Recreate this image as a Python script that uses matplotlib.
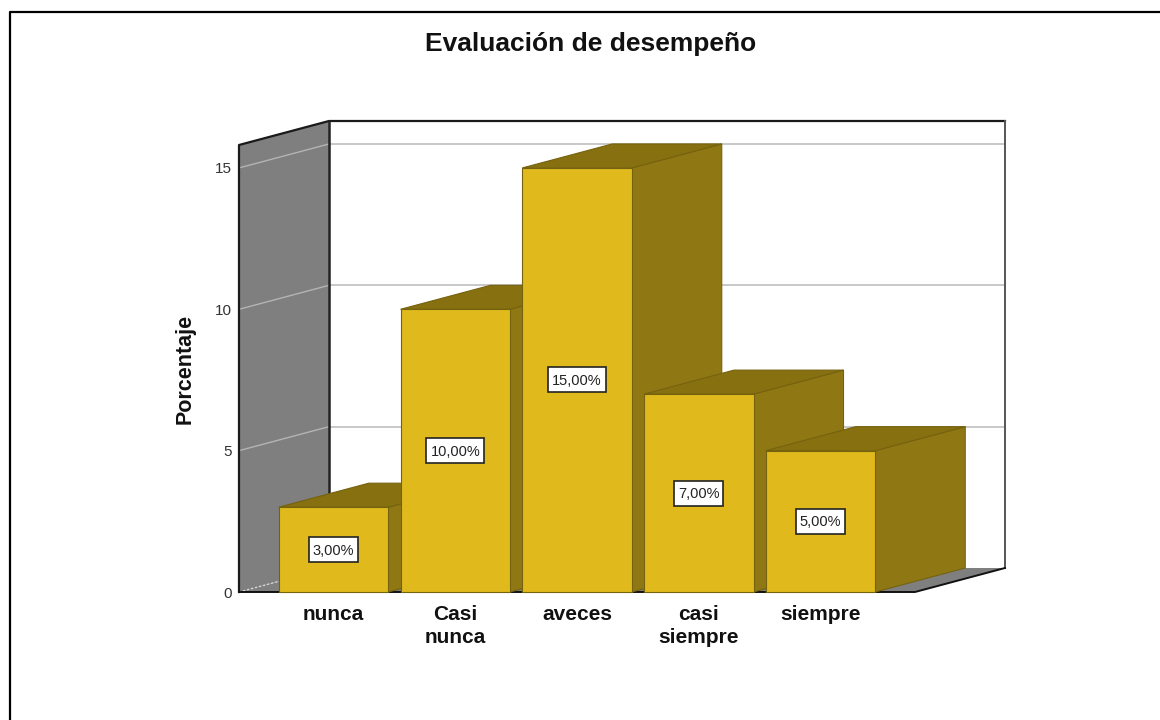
import matplotlib
matplotlib.use('Agg')
import matplotlib.pyplot as plt
from matplotlib.lines import Line2D
from matplotlib.patches import Polygon

plt.rcParams['font.family'] = ['Liberation Sans', 'DejaVu Sans']

categories = ['nunca', 'Casi\nnunca', 'aveces', 'casi\nsiempre', 'siempre']
values = [3, 10, 15, 7, 5]
labels = ['3,00%', '10,00%', '15,00%', '7,00%', '5,00%']
yticks = [0, 5, 10, 15]

W, H = 1160, 720
# pixel layout of the front plane of the fake 3d box
left, right, bottom, top = 239, 915, 592, 145
px_x = 121.75  # px per category
px_y = 28.27   # px per y unit
first_center = 333.5
bar_w = 109.5 / px_x
dx = 90 / px_x  # depth
dy = 24 / px_y

FACE = '#e0b91c'
SIDE = '#8f7814'
TOPC = '#877010'
EDGE = '#75620e'
WALL = '#7f7f7f'
GRID = '#c8c8c8'

fig = plt.figure(figsize=(W / 100, H / 100), dpi=100, facecolor='white')
ax = fig.add_axes([left / W, 1 - bottom / H, (right - left) / W, (bottom - top) / H])
ax.set_xlim((left - first_center) / px_x, (right - first_center) / px_x)
ax.set_ylim(0, (bottom - top) / px_y)
ax.patch.set_visible(False)
for s in ax.spines.values():
    s.set_visible(False)

x0, x1 = ax.get_xlim()
y1 = ax.get_ylim()[1]


def poly(pts, fc, ec='none', lw=0.8, z=1):
    p = Polygon(pts, closed=True, facecolor=fc, edgecolor=ec, linewidth=lw, zorder=z, clip_on=False)
    ax.add_patch(p)


# back wall and floor
poly([(x0 + dx, dy), (x1 + dx, dy), (x1 + dx, y1 + dy), (x0 + dx, y1 + dy)], 'white', z=1)
poly([(x0, 0), (x0 + dx, dy), (x1 + dx, dy), (x1, 0)], WALL, z=1)
for t in yticks[1:]:
    ax.plot([x0 + dx, x1 + dx], [t + dy, t + dy], color=GRID, lw=1.4, zorder=2, clip_on=False)

# left wall
poly([(x0, 0), (x0 + dx, dy), (x0 + dx, y1 + dy), (x0, y1)], WALL, z=3)
for t in yticks[1:]:
    ax.plot([x0, x0 + dx], [t, t + dy], color='#b4b4b4', lw=1, zorder=4, clip_on=False)
ax.plot([x0, x0 + dx], [0, dy], color='#d8d8d8', lw=1, ls=(0, (1.5, 1.5)), zorder=4, clip_on=False)

# box outline
ax.plot([x0, x0, x0 + dx, x1 + dx], [0, y1, y1 + dy, y1 + dy], color='#1a1a1a', lw=1.6, zorder=5, clip_on=False)
ax.plot([x0 + dx, x0 + dx], [dy, y1 + dy], color='#222222', lw=1.8, zorder=5, clip_on=False)
ax.plot([x1 + dx, x1 + dx], [dy, y1 + dy], color='#555555', lw=1.4, zorder=5, clip_on=False)
ax.plot([x0, x1, x1 + dx], [0, 0, dy], color='#111111', lw=1.4, zorder=5, clip_on=False)

# bars, left to right so the next one hides the side of the previous
for i, v in enumerate(values):
    a = i - bar_w / 2
    b = i + bar_w / 2
    z = 6 + i
    poly([(b, 0), (b + dx, dy), (b + dx, v + dy), (b, v)], SIDE, EDGE, z=z)
    poly([(a, v), (a + dx, v + dy), (b + dx, v + dy), (b, v)], TOPC, EDGE, z=z)
    poly([(a, 0), (b, 0), (b, v), (a, v)], FACE, EDGE, z=z)
    # label box is taller than a text bbox would give
    hw = (4.6 * len(labels[i]) + 1.5) / px_x
    hh = 12.5 / px_y
    poly([(i - hw, v / 2 - hh), (i + hw, v / 2 - hh), (i + hw, v / 2 + hh), (i - hw, v / 2 + hh)],
         'white', '#222222', lw=1.2, z=20)
    ax.text(i, v / 2 - 1 / px_y, labels[i], ha='center', va='center', fontsize=10.5, color='#222222', zorder=21)

ax.set_yticks(yticks)
ax.set_xticks(range(len(categories)))
ax.set_xticklabels(categories, fontsize=15, fontweight='bold', linespacing=1.25)
ax.tick_params(axis='x', length=0, pad=9.5, colors='#111111')
ax.tick_params(axis='y', length=0, pad=5, labelsize=11, labelcolor='#333333')

fig.text(185 / W, 1 - 369 / H, 'Porcentaje', rotation=90, ha='center', va='center',
         fontsize=15.5, fontweight='bold', color='#111111')
fig.text(591 / W, 1 - 44 / H, 'Evaluación de desempeño', ha='center', va='center',
         fontsize=19, fontweight='bold', color='#111111')

# outer frame, only top and left are inside the picture
fig.add_artist(Line2D([10 / W, 10 / W, 1], [0, 1 - 12 / H, 1 - 12 / H], color='black', lw=1.6,
                      transform=fig.transFigure))

fig.savefig('out.png', dpi=100)
